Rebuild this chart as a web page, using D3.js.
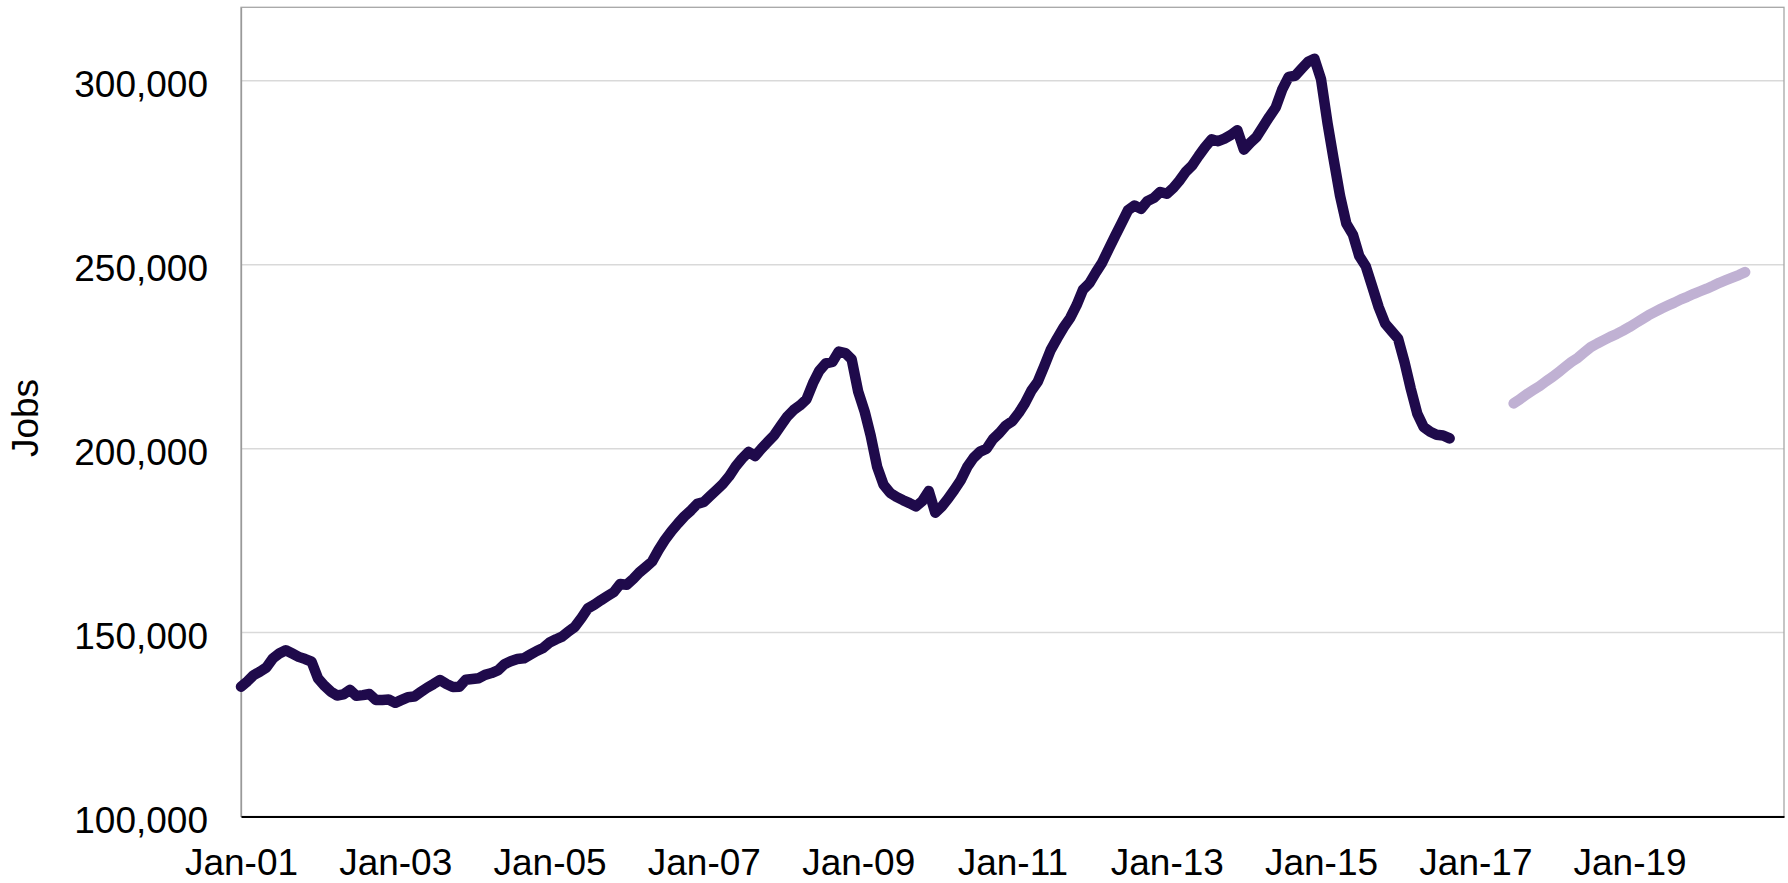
<!DOCTYPE html>
<html>
<head>
<meta charset="utf-8">
<script src="https://cdn.jsdelivr.net/npm/d3@7"></script>
<style>
    body { margin: 0; background: #fff; }
    text { font-family: "Liberation Sans", Arial, sans-serif; }
</style>
</head>
<body>
<svg id="SVG_CONTAINER" width="1788" height="883"></svg>
<script>
let d3 = window.d3;

// monthly jobs, actual series starts Jan 2001
const actualStart = [2001, 0];
const actualJobs = [
    135300, 136800, 138400, 139400, 140500, 143000, 144300, 145200, 144300, 143400, 142800, 142100,
    137500, 135500, 134000, 132900, 133200, 134400, 132800, 133000, 133300, 131700, 131700, 131800,
    130900, 131700, 132400, 132600, 133800, 135000, 136000, 137100, 136000, 135200, 135300, 137200,
    137400, 137600, 138500, 139000, 139700, 141400, 142200, 142800, 143000, 144000, 145000, 145800,
    147300, 148200, 148900, 150300, 151600, 154000, 156600, 157600, 158800, 159900, 161000, 163200,
    163000, 164600, 166300, 167800, 169300, 172500, 175200, 177600, 179700, 181600, 183200, 185000,
    185500, 187200, 188700, 190400, 192500, 195200, 197300, 199100, 198000, 200000, 201900, 203700,
    206300, 208800, 210500, 211800, 213400, 217800, 221200, 223200, 223600, 226400, 226000, 224300,
    215500, 210000, 203600, 195000, 190200, 188000, 186900, 186000, 185200, 184300, 185800, 188500,
    182600, 184300, 186300, 188800, 191400, 195000, 197500, 199200, 200000, 202600, 204300, 206300,
    207500, 209800, 212300, 215800, 218200, 222500, 226800, 230000, 233000, 235500, 239000, 243200,
    245000, 248000, 250600, 254300, 257800, 261300, 264800, 266100, 265200, 267300, 268200, 269800,
    269300, 270900, 272800, 275300, 277000, 279600, 282000, 284100, 283600, 284300, 285300, 286600,
    281300, 283200, 284700, 287500, 290200, 292800, 297600, 301100, 301400, 303300, 305200, 306000,
    300500, 288500, 279000, 268800, 261200, 258200, 252400, 249600, 244000, 238500, 234000, 232000,
    229900, 223400, 216300, 209500, 205900, 204600, 203800, 203600, 202800
];

// projected series starts Jul 2017
const projStart = [2017, 6];
const projJobs = [
    212300, 213500, 214800, 215900, 217000, 218300, 219500, 220900, 222200, 223600, 224700, 226200,
    227600, 228600, 229500, 230400, 231200, 232100, 233100, 234200, 235200, 236300, 237200, 238100,
    238900, 239700, 240600, 241300, 242100, 242800, 243500, 244300, 245100, 245800, 246500, 247200,
    248000
];

const yTicks = [100000, 150000, 200000, 250000, 300000];
const tickYears = [2001, 2003, 2005, 2007, 2009, 2011, 2013, 2015, 2017, 2019];
const xDomain = [new Date(Date.UTC(2001, 0, 1)), new Date(Date.UTC(2021, 0, 1))];
const yDomain = [100000, 320000];

const MARGIN = {
    "LEFT": 241,
    "RIGHT": 4,
    "TOP": 7.3,
    "BOTTOM": 66.5,
};

const   width  = 1788,
        height = 883;

window.onload = function () {
    let svg = d3.select("#SVG_CONTAINER");
    let Chart = new chart(svg);
};

let toSeries = function (start, values) {
    return values.map((v, i) => ({
        date: new Date(Date.UTC(start[0], start[1] + i, 1)),
        value: v
    }));
};

let chart = function (svg) {

    let xScale = d3.scaleUtc()
        .domain(xDomain)
        .range([MARGIN.LEFT, width - MARGIN.RIGHT]);

    let yScale = d3.scaleLinear()
        .domain(yDomain)
        .range([height - MARGIN.BOTTOM, MARGIN.TOP]);

    //grid lines
    svg.append("g")
        .selectAll("line")
        .data(yTicks.slice(1))
        .enter()
        .append("line")
            .attr("x1", MARGIN.LEFT)
            .attr("x2", width - MARGIN.RIGHT)
            .attr("y1", d => yScale(d))
            .attr("y2", d => yScale(d))
            .attr("stroke", "#d9d9d9")
            .attr("stroke-width", 1.5);

    //plot border (top / right)
    svg.append("rect")
        .attr("x", MARGIN.LEFT)
        .attr("y", MARGIN.TOP)
        .attr("width", width - MARGIN.RIGHT - MARGIN.LEFT)
        .attr("height", height - MARGIN.BOTTOM - MARGIN.TOP)
        .attr("fill", "none")
        .attr("stroke", "#a6a6a6")
        .attr("stroke-width", 1.3);

    //y axis
    let yAxis = svg.append("g")
        .attr("transform", "translate(" + MARGIN.LEFT + ", 0)")
        .call(d3.axisLeft(yScale)
            .tickValues(yTicks)
            .tickSize(0)
            .tickPadding(33)
            .tickFormat(d3.format(",")));
    yAxis.select(".domain").attr("stroke", "#999999").attr("stroke-width", 1.3);
    yAxis.selectAll("text")
        .attr("dy", "0.43em")
        .style("font-size", "37px")
        .attr("fill", "#000");

    //x axis
    let xAxis = svg.append("g")
        .attr("transform", "translate(0, " + (height - MARGIN.BOTTOM) + ")")
        .call(d3.axisBottom(xScale)
            .tickValues(tickYears.map(y => new Date(Date.UTC(y, 0, 1))))
            .tickSize(0)
            .tickPadding(32)
            .tickFormat(d3.utcFormat("%b-%y")));
    xAxis.select(".domain").attr("stroke", "#000").attr("stroke-width", 2);
    xAxis.selectAll("text")
        .style("font-size", "37px")
        .attr("fill", "#000");

    let line = d3.line()
        .x(d => xScale(d.date))
        .y(d => yScale(d.value));

    //projection
    svg.append("path")
        .datum(toSeries(projStart, projJobs))
        .attr("d", line)
        .attr("fill", "none")
        .attr("stroke", "#c0b1d3")
        .attr("stroke-width", 10.5)
        .attr("stroke-linecap", "round")
        .attr("stroke-linejoin", "round");

    //actual
    svg.append("path")
        .datum(toSeries(actualStart, actualJobs))
        .attr("d", line)
        .attr("fill", "none")
        .attr("stroke", "#1f0a4b")
        .attr("stroke-width", 10.5)
        .attr("stroke-linecap", "round")
        .attr("stroke-linejoin", "round");

    //y axis label
    svg.append("text")
        .attr("transform", "translate(38, 418)rotate(-90)")
        .attr("text-anchor", "middle")
        .text("Jobs")
        .style("font-size", "37px");
};
</script>
</body>
</html>
